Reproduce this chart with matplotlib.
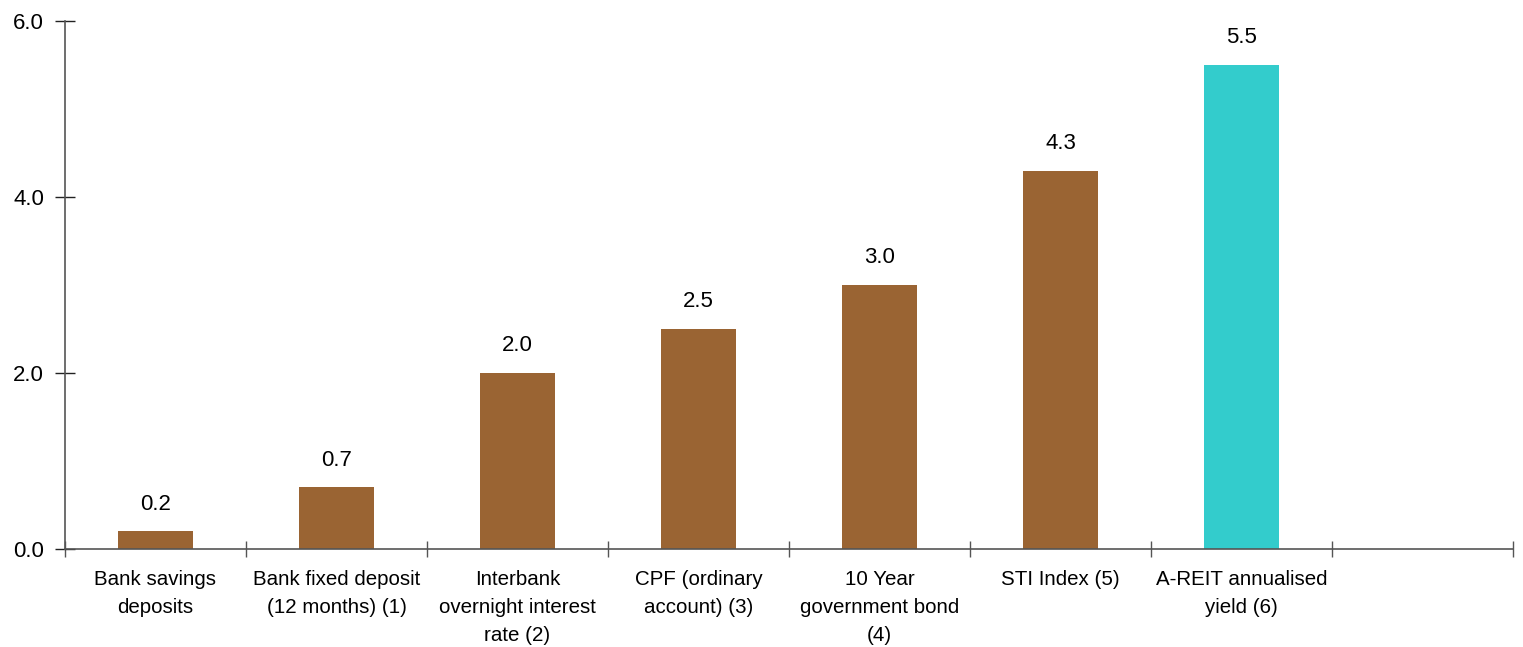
import matplotlib
matplotlib.use("Agg")
import matplotlib.pyplot as plt
import numpy as np

plt.rcParams['font.family'] = ['Liberation Sans', 'DejaVu Sans']

categories = [
    "Bank savings\ndeposits",
    "Bank fixed deposit\n(12 months) (1)",
    "Interbank\novernight interest\nrate (2)",
    "CPF (ordinary\naccount) (3)",
    "10 Year\ngovernment bond\n(4)",
    "STI Index (5)",
    "A-REIT annualised\nyield (6)",
    "",
]
values = [0.2, 0.7, 2.0, 2.5, 3.0, 4.3, 5.5]
bar_colors = ["#9A6433"] * 6 + ["#33CCCC"]
yticks = [0, 2, 4, 6]

fig = plt.figure(figsize=(15.23, 6.47), dpi=100)
ax = fig.add_axes([65 / 1523, 98 / 647, 1448 / 1523, 528 / 647])

x = np.arange(len(values))
bars = ax.bar(x, values, width=0.41, color=bar_colors, zorder=2)

# value labels above each bar
for xi, v in zip(x, values):
    ax.annotate(f"{v:.1f}", (xi, v), xytext=(0, 12), textcoords="offset points",
                ha="center", va="bottom", fontsize=16, color="black")

ax.set_xlim(-0.5, len(categories) - 0.5)
ax.set_ylim(0, 6)
ax.set_yticks(yticks)
ax.set_yticklabels([f"{t:.1f}" for t in yticks], fontsize=16)

# separators between categories, labels centred under each slot
ax.set_xticks(np.arange(len(categories) + 1) - 0.5)
ax.set_xticklabels([])
ax.set_xticks(np.arange(len(categories)), minor=True)
ax.set_xticklabels(categories, minor=True, fontsize=14.8, linespacing=1.62)
ax.tick_params(axis="x", which="minor", length=0, pad=15)
ax.tick_params(axis="x", which="major", direction="inout", length=12, width=1, color="#555555")
ax.tick_params(axis="y", direction="inout", length=14, width=1, color="#222222", pad=8)

for side in ("top", "right"):
    ax.spines[side].set_visible(False)
ax.spines["left"].set_color("#555555")
ax.spines["bottom"].set_color("#555555")
ax.spines["left"].set_linewidth(1.2)
ax.spines["bottom"].set_linewidth(1.2)

fig.savefig("out.png", dpi=100)
